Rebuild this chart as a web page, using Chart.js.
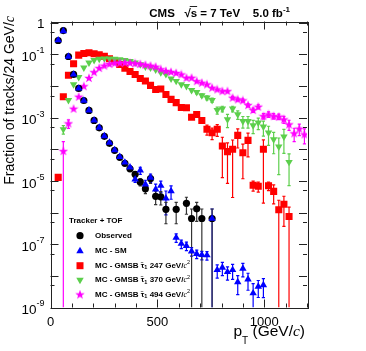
<!DOCTYPE html>
<html>
<head>
<meta charset="utf-8">
<script src="https://cdn.jsdelivr.net/npm/chart.js@4.4.1/dist/chart.umd.min.js"></script>
<style>
  html, body { margin: 0; padding: 0; background: #fff; }
  #wrap { width: 366px; height: 351px; }
</style>
</head>
<body>
<div id="wrap"><canvas id="myChart" width="366" height="351"></canvas></div>
<script>
// bin centres, 24 GeV bins
const binCenters = [12, 36, 60, 84, 108, 132, 156, 180, 204, 228,
  252, 276, 300, 324, 348, 372, 396, 420, 444, 468,
  492, 516, 540, 564, 588, 612, 636, 660, 684, 708,
  732, 756, 780, 804, 828, 852, 876, 900, 924, 948,
  972, 996, 1020, 1044, 1068, 1092, 1116, 1140, 1164, 1188];

const observed = [null, 0.276, 0.57, 0.086, 0.0233, 0.0084, 0.0035, 0.0017, 8.2e-4, 4.8e-4,
  2.57e-4, 1.55e-4, 9.3e-5, 5.6e-5, 3.6e-5, 2.42e-5, 1.62e-5, 9.3e-6, 5.65e-6, 1.19e-5,
  3.27e-6, 3.16e-6, 1.27e-6, null, 1.27e-6, null, 1.97e-6, 6.5e-7, 1.32e-6, 6.5e-7,
  null, 6.5e-7, null, null, null, null, null, null, null, null,
  null, null, null, null, null, null, null, null, null, null];
const observedErr = [0, 0, 0, 0, 0, 0, 0, 0, 0, 0,
  0, 0, 0.08, 0.1, 0.12, 0.15, 0.18, 0.25, 0.3, 0.3,
  0.45, 0.45, 0.65, 0, 0.65, 0, 0.55, 1, 0.6, 1,
  0, 1, 0, 0, 0, 0, 0, 0, 0, 0,
  0, 0, 0, 0, 0, 0, 0, 0, 0, 0];

const mcSM = [null, 0.282, 0.55, 0.086, 0.0233, 0.0084, 0.0035, 0.0017, 8.2e-4, 4.9e-4,
  2.64e-4, 1.63e-4, 9.5e-5, 5.8e-5, 3.85e-5, 2.7e-5, 1.13e-5, 2.17e-5, 7.8e-6, 1.28e-5,
  5.45e-6, 7.1e-6, 2.83e-6, 4.8e-6, 1.63e-7, 1.04e-7, 8.95e-8, 6.0e-8, 5.0e-8, 4.6e-8,
  4.5e-8, 6.5e-7, 1.54e-8, 1.84e-8, 1.33e-8, 1.54e-8, 6.4e-9, 1.7e-8, 7.8e-9, 2.83e-9,
  4.6e-9, 5.1e-9, null, null, null, null, null, null, null, null];
const mcSMErr = [0, 0, 0, 0, 0, 0, 0, 0, 0, 0,
  0, 0, 0, 0.08, 0.1, 0.12, 0.2, 0.25, 0.35, 0.3,
  0.45, 0.4, 0.7, 0.45, 0.3, 0.3, 0.3, 0.3, 0.3, 0.3,
  0.3, 1, 0.45, 0.45, 0.45, 0.5, 0.6, 0.45, 0.55, 1,
  0.55, 0.6, 0, 0, 0, 0, 0, 0, 0, 0];

const gmsb247 = [null, 1.3e-5, 4.6e-3, 0.0221, 0.0507, 0.095, 0.107, 0.113, 0.105, 0.0977,
  0.088, 0.073, 0.062, 0.048, 0.037, 0.029, 0.0233, 0.0174, 0.0145, 0.0105,
  0.0078, 0.0081, 0.0054, 0.0038, 0.0030, 0.0021, 0.00207, 0.00104, 0.00127, 8.2e-4,
  4.3e-4, 3.36e-4, 4.3e-4, 1.27e-4, 8.45e-5, 1.0e-4, 2.76e-4, 7.85e-5, 1.92e-4, 7.3e-6,
  6.8e-6, 1.0e-4, 7.1e-6, 4.7e-6, 1.23e-6, 1.83e-6, 7.5e-7, null, null, null];
const gmsb247Err = [0, 0.2, 0, 0, 0, 0, 0, 0, 0, 0,
  0, 0, 0, 0, 0, 0, 0, 0, 0, 0,
  0, 0, 0, 0.08, 0.1, 0.12, 0.12, 0.15, 0.15, 0.2,
  0.35, 0.4, 0.4, 0.9, 0.9, 0.97, 0.6, 0.85, 0.7, 0.35,
  0.35, 0.98, 0.3, 0.6, 1, 0.8, 1, 0, 0, 0];

const gmsb370 = [null, null, 4.3e-4, 3.6e-3, 0.0113, 0.019, 0.038, 0.0546, 0.0656, 0.0718,
  0.0741, 0.0741, 0.0726, 0.0702, 0.0664, 0.0617, 0.0546, 0.0482, 0.0411, 0.0379,
  0.0332, 0.0268, 0.0236, 0.0172, 0.0144, 0.01126, 0.00995, 0.00744, 0.00644, 0.00506,
  0.00428, 0.0036, 0.00174, 0.00192, 8.85e-4, 0.00192, 0.00127, 7.8e-4, 7.8e-4, 5.7e-4,
  6.95e-4, 5.2e-4, 3.36e-4, 2.07e-4, 1.22e-4, 2.5e-4, 3.96e-5, null, null, null];
const gmsb370Err = [0, 0, 0.3, 0, 0, 0, 0, 0, 0, 0,
  0, 0, 0, 0, 0, 0, 0, 0, 0, 0,
  0, 0, 0, 0, 0, 0, 0, 0.1, 0.12, 0.12,
  0.15, 0.15, 0.25, 0.2, 0.45, 0.2, 0.3, 0.4, 0.4, 0.45,
  0.4, 0.5, 0.6, 0.65, 0.87, 0.7, 0.82, 0, 0, 0];

const gmsb494 = [null, null, 8.8e-5, 6.6e-4, 1.92e-3, 4.6e-3, 9.9e-3, 0.018, 0.0276, 0.0372,
  0.0443, 0.0498, 0.053, 0.0546, 0.0546, 0.054, 0.052, 0.05, 0.047, 0.044,
  0.041, 0.034, 0.030, 0.028, 0.026, 0.0233, 0.0183, 0.0183, 0.0143, 0.0127,
  0.0113, 0.00887, 0.00783, 0.00692, 0.00692, 0.00428, 0.00379, 0.00352, 0.0025, 0.00174,
  0.00223, 0.00112, 0.00127, 0.00112, 0.00108, 8.85e-4, 6.15e-4, 3.2e-4, 4.5e-4, 2.97e-4];
const gmsb494Err = [0, 0, 1, 0.3, 0, 0, 0, 0, 0, 0,
  0, 0, 0, 0, 0, 0, 0, 0, 0, 0,
  0, 0, 0, 0, 0, 0, 0, 0, 0, 0,
  0, 0, 0, 0, 0, 0.1, 0.1, 0.1, 0.12, 0.15,
  0.15, 0.2, 0.2, 0.2, 0.2, 0.25, 0.35, 0.45, 0.4, 0.5];

const xTicks = [0, 500, 1000];
const yLabelExps = [0, -1, -3, -5, -7, -9];

const FONT = '"Liberation Sans", Arial, Helvetica, sans-serif';
const GREEN = '#5ccf4c';

function toPoints(vals, errs) {
  const pts = [];
  binCenters.forEach((x, i) => {
    if (vals[i] !== null) pts.push({ x: x, y: vals[i], e: errs[i] });
  });
  return pts;
}

// filled five point star, like the ROOT marker
function makeStar(color, size) {
  const c = document.createElement('canvas');
  c.width = size; c.height = size;
  const g = c.getContext('2d');
  const cx = size / 2, cy = size / 2 + 0.3, ro = size / 2, ri = size / 5;
  g.beginPath();
  for (let i = 0; i < 10; i++) {
    const r = i % 2 ? ri : ro;
    const a = -Math.PI / 2 + i * Math.PI / 5;
    g.lineTo(cx + r * Math.cos(a), cy + r * Math.sin(a));
  }
  g.closePath();
  g.fillStyle = color;
  g.fill();
  return c;
}
const starImg = makeStar('#ff00ff', 10);

function drawRuns(ctx, runs, x, y) {
  for (const r of runs) {
    ctx.font = r.font;
    ctx.fillText(r.t, x, y + (r.dy || 0));
    x += ctx.measureText(r.t).width;
  }
  return x;
}
function runsWidth(ctx, runs) {
  let w = 0;
  for (const r of runs) { ctx.font = r.font; w += ctx.measureText(r.t).width; }
  return w;
}

function legendMarker(ctx, kind, color, x, y) {
  ctx.fillStyle = color;
  ctx.beginPath();
  if (kind === 'circle') {
    ctx.arc(x, y, 3.6, 0, Math.PI * 2);
  } else if (kind === 'up' || kind === 'down') {
    const rot = kind === 'down' ? Math.PI : 0;
    for (let i = 0; i < 3; i++) {
      const a = rot + i * 2 * Math.PI / 3;
      ctx.lineTo(x + Math.sin(a) * 4.3, y - Math.cos(a) * 4.3);
    }
    ctx.closePath();
  } else if (kind === 'rect') {
    ctx.rect(x - 3.5, y - 3.5, 7, 7);
  } else if (kind === 'star') {
    ctx.drawImage(starImg, x - 5, y - 5);
    return;
  }
  ctx.fill();
}

const rootStyle = {
  id: 'rootStyle',
  beforeDatasetsDraw(chart) {
    const { ctx, chartArea: a, scales: { x: xs, y: ys } } = chart;
    ctx.save();
    ctx.beginPath();
    ctx.rect(a.left, a.top, a.right - a.left, a.bottom - a.top);
    ctx.clip();
    ctx.lineWidth = 1.2;
    chart.data.datasets.forEach((ds) => {
      ctx.strokeStyle = ds.barColor;
      ds.data.forEach((p) => {
        if (!p.e) return;
        const px = xs.getPixelForValue(p.x);
        const hi = ys.getPixelForValue(p.y * (1 + p.e));
        const loVal = p.y * (1 - p.e);
        const lo = loVal <= ys.min ? a.bottom : ys.getPixelForValue(loVal);
        ctx.beginPath();
        ctx.moveTo(px, hi); ctx.lineTo(px, lo);
        ctx.moveTo(px - 1.6, hi); ctx.lineTo(px + 1.6, hi);
        if (lo < a.bottom) { ctx.moveTo(px - 1.6, lo); ctx.lineTo(px + 1.6, lo); }
        ctx.stroke();
      });
    });
    ctx.restore();
  },
  afterDraw(chart) {
    const { ctx, chartArea: a, scales: { x: xs, y: ys } } = chart;
    ctx.save();
    // frame
    ctx.strokeStyle = '#222';
    ctx.lineWidth = 1;
    ctx.strokeRect(Math.round(a.left) + 0.5, Math.round(a.top) + 0.5,
      Math.round(a.right - a.left), Math.round(a.bottom - a.top));
    // x ticks, inside, bottom and top
    ctx.beginPath();
    for (let v = 0; v <= 1200; v += 100) {
      const px = Math.round(xs.getPixelForValue(v)) + 0.5;
      const len = v % 500 === 0 ? 8 : 4;
      ctx.moveTo(px, a.bottom); ctx.lineTo(px, a.bottom - len);
      ctx.moveTo(px, a.top); ctx.lineTo(px, a.top + len);
    }
    // y ticks at decades and at 5x decades
    for (let n = -9; n <= 0; n++) {
      [[Math.pow(10, n), 8], [5 * Math.pow(10, n), 4]].forEach(([v, len]) => {
        if (v < ys.min || v > ys.max) return;
        const py = Math.round(ys.getPixelForValue(v)) + 0.5;
        ctx.moveTo(a.left, py); ctx.lineTo(a.left + len, py);
        ctx.moveTo(a.right, py); ctx.lineTo(a.right - len, py);
      });
    }
    ctx.stroke();

    ctx.fillStyle = '#000';
    // x tick labels
    ctx.textAlign = 'center';
    ctx.textBaseline = 'middle';
    ctx.font = '13px ' + FONT;
    xTicks.forEach((v) => ctx.fillText(String(v), xs.getPixelForValue(v), a.bottom + 15));

    // y tick labels
    ctx.textAlign = 'left';
    const lx = a.left - 6;
    yLabelExps.forEach((n) => {
      const py = ys.getPixelForValue(Math.pow(10, n));
      if (n === 0) {
        ctx.font = '13.5px ' + FONT;
        ctx.textAlign = 'right';
        ctx.fillText('1', lx, py + 1.5);
        ctx.textAlign = 'left';
        return;
      }
      const runs = [
        { t: '10', font: '13.5px ' + FONT, dy: 3 },
        { t: String(n), font: '9px ' + FONT, dy: -3.5 }
      ];
      drawRuns(ctx, runs, lx - runsWidth(ctx, runs), py);
    });

    // x title
    ctx.textBaseline = 'alphabetic';
    const xt = [
      { t: 'p', font: '15.5px ' + FONT },
      { t: 'T', font: '10px ' + FONT, dy: 8 },
      { t: ' (GeV/', font: '15.5px ' + FONT },
      { t: 'c', font: 'italic 15.5px "Liberation Serif", serif' },
      { t: ')', font: '15.5px ' + FONT }
    ];
    drawRuns(ctx, xt, a.right - 2 - runsWidth(ctx, xt), 336);

    // y title
    ctx.save();
    ctx.translate(14, 16);
    ctx.rotate(-Math.PI / 2);
    const yt = [
      { t: 'Fraction of tracks/24 GeV/', font: '14px ' + FONT },
      { t: 'c', font: 'italic 14px "Liberation Serif", serif' }
    ];
    drawRuns(ctx, yt, -runsWidth(ctx, yt), 0);
    ctx.restore();

    // top label
    const tt = [
      { t: 'CMS   ', font: 'bold 11.5px ' + FONT },
      { t: '\u221A', font: 'bold 11.5px ' + FONT },
      { t: 's', font: 'bold 11.5px ' + FONT },
      { t: ' = 7 TeV    5.0 fb', font: 'bold 11.5px ' + FONT },
      { t: '-1', font: 'bold 8px ' + FONT, dy: -5 }
    ];
    const tx0 = 290 - runsWidth(ctx, tt);
    drawRuns(ctx, tt, tx0, 16.5);
    // bar over the s of sqrt(s)
    ctx.font = 'bold 11.5px ' + FONT;
    const sx = tx0 + ctx.measureText('CMS   \u221A').width;
    ctx.beginPath();
    ctx.lineWidth = 1;
    ctx.moveTo(sx - 1, 6.5); ctx.lineTo(sx + ctx.measureText('s').width, 6.5);
    ctx.stroke();

    // legend
    ctx.font = 'bold 8px ' + FONT;
    ctx.textBaseline = 'middle';
    ctx.fillText('Tracker + TOF', 69, 221);
    const entries = [
      { kind: 'circle', color: '#000', mass: null, label: 'Observed' },
      { kind: 'up', color: '#0000ff', mass: null, label: 'MC - SM' },
      { kind: 'rect', color: '#ff0000', mass: '247' },
      { kind: 'down', color: GREEN, mass: '370' },
      { kind: 'star', color: '#ff00ff', mass: '494' }
    ];
    const rowY = [235.7, 251, 265.7, 280, 294.5];
    entries.forEach((e, i) => {
      legendMarker(ctx, e.kind, e.color, 80, rowY[i]);
      ctx.fillStyle = '#000';
      let runs;
      if (e.mass === null) {
        runs = [{ t: e.label, font: 'bold 8px ' + FONT }];
      } else {
        runs = [
          { t: 'MC - GMSB ', font: 'bold 8px ' + FONT },
          { t: '\u03C4\u0303', font: 'bold 8px ' + FONT },
          { t: '1', font: 'bold 5.5px ' + FONT, dy: 2 },
          { t: ' ' + e.mass + ' GeV/', font: 'bold 8px ' + FONT },
          { t: 'c', font: 'italic 8px "Liberation Serif", serif' },
          { t: '2', font: '5.5px ' + FONT, dy: -3 }
        ];
      }
      drawRuns(ctx, runs, 95, rowY[i]);
    });
    ctx.restore();
  }
};

const ctx = document.getElementById('myChart').getContext('2d');
const myChart = new Chart(ctx, {
  type: 'scatter',
  data: {
    datasets: [
      {
        label: 'MC - SM',
        data: toPoints(mcSM, mcSMErr),
        pointStyle: 'triangle',
        pointRadius: 4.3,
        backgroundColor: '#0000ff',
        borderColor: '#0000ff',
        borderWidth: 0,
        barColor: '#0000ff'
      },
      {
        label: 'Observed',
        data: toPoints(observed, observedErr),
        pointStyle: 'circle',
        pointRadius: 3.6,
        backgroundColor: '#000',
        borderColor: '#000',
        borderWidth: 0,
        barColor: '#333'
      },
      {
        label: 'MC - GMSB 494',
        data: toPoints(gmsb494, gmsb494Err),
        pointStyle: starImg,
        backgroundColor: '#ff00ff',
        borderColor: '#ff00ff',
        barColor: '#ff00ff'
      },
      {
        label: 'MC - GMSB 370',
        data: toPoints(gmsb370, gmsb370Err),
        pointStyle: 'triangle',
        rotation: 180,
        pointRadius: 4.3,
        backgroundColor: GREEN,
        borderColor: GREEN,
        borderWidth: 0,
        barColor: GREEN
      },
      {
        label: 'MC - GMSB 247',
        data: toPoints(gmsb247, gmsb247Err),
        pointStyle: 'rect',
        pointRadius: 5,
        backgroundColor: '#ff0000',
        borderColor: '#ff0000',
        borderWidth: 0,
        barColor: '#ff0000'
      }
    ]
  },
  options: {
    responsive: false,
    animation: false,
    events: [],
    layout: { padding: { left: 50.5, right: 59, top: 21.5, bottom: 43.5 } },
    plugins: { legend: { display: false }, tooltip: { enabled: false } },
    scales: {
      x: { type: 'linear', min: 0, max: 1200, display: false },
      y: { type: 'logarithmic', min: 1e-9, max: 1.1, display: false }
    }
  },
  plugins: [rootStyle]
});
</script>
</body>
</html>
